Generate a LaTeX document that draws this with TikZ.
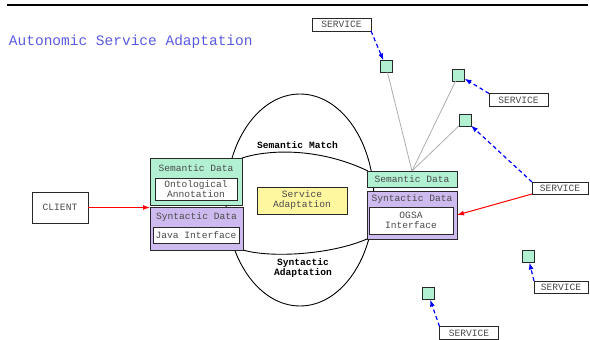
\documentclass[tikz,border=0pt]{standalone}
\usepackage{fontspec}
\newfontfamily\courfont{Liberation Mono}
\usetikzlibrary{positioning,arrows.meta}

\definecolor{semgreen}{RGB}{178,240,210}
\definecolor{synpurple}{RGB}{205,186,238}
\definecolor{adaptyellow}{RGB}{255,246,160}
\definecolor{titleblue}{RGB}{90,90,225}
\definecolor{boxline}{RGB}{40,40,40}
\definecolor{txtgray}{RGB}{75,75,75}

\tikzset{
  every node/.style={font=\courfont\fontsize{9.6}{10}\selectfont,inner sep=0pt,outer sep=0pt},
  box/.style={draw=boxline,line width=1pt,align=center,text=txtgray},
  semdata/.style={box,fill=semgreen},
  syndata/.style={box,fill=synpurple},
  iface/.style={box,fill=white},
  svcbox/.style={box,fill=white,minimum width=59pt,minimum height=13pt},
  sqnode/.style={box,fill=semgreen,minimum size=12pt},
  boldlbl/.style={font=\courfont\bfseries\fontsize{9.6}{10}\selectfont,align=center},
  hubline/.style={draw=black!32,line width=0.8pt},
  bluedash/.style={draw=blue,line width=1.2pt,dash pattern=on 4pt off 3pt,-{Latex[length=7pt,width=5pt]}},
  redarrow/.style={draw=red,line width=1pt,-{Latex[length=7pt,width=5pt]}}
}

\begin{document}
\begin{tikzpicture}[x=1pt,y=-1pt]
\useasboundingbox (0,0) rectangle (590,340);

\draw[line width=2pt] (7,5) -- (588,5);
\node[anchor=west,text=titleblue,font=\courfont\fontsize{14.5}{16}\selectfont] (title) at (9,42) {Autonomic Service Adaptation};

% ellipse and the two matching curves
\draw[line width=0.9pt] (300,200) ellipse [x radius=74,y radius=106];
\draw[line width=0.9pt] (242,158) .. controls (270,149) and (320,148) .. (368,171);
\draw[line width=0.9pt] (243,250) .. controls (270,258) and (330,255) .. (367,239);
\node[boldlbl] (match) at (297.5,145) {Semantic Match};
\node[boldlbl] (synadapt) at (303,268) {Syntactic\\Adaptation};

% client side
\node[semdata,minimum width=92pt,minimum height=47pt] (semL) at (196,181.5) {};
\node[iface,minimum width=82pt,minimum height=22pt] (ont) at (196,189) {Ontological\\Annotation};
\node[syndata,minimum width=93pt,minimum height=43pt] (synL) at (196.5,228.5) {};
\node[iface,minimum width=86pt,minimum height=16pt] (java) at (196,235) {Java Interface};
\node[text=txtgray] at ([yshift=-10pt]semL.north) {Semantic Data};
\node[text=txtgray] at ([yshift=-10.5pt]synL.north) {Syntactic Data};

\node[box,fill=white,minimum width=56pt,minimum height=31pt] (cli) at (60,207.5) {CLIENT};
\draw[redarrow] (cli) -- (cli -| synL.west);

\node[box,fill=adaptyellow,minimum width=90pt,minimum height=27pt] (adapt) at (302,200.5) {Service\\Adaptation};

% service side
\node[semdata,minimum width=90pt,minimum height=16pt] (semR) at (412,179) {Semantic Data};
\node[syndata,minimum width=90pt,minimum height=48pt] (synR) at (412,215) {};
\node[text=txtgray] at ([yshift=-8pt]synR.north) {Syntactic Data};
\node[iface,minimum width=84pt,minimum height=27pt] (ogsa) at (411,220.5) {OGSA\\Interface};

\node[sqnode] (sqA) at (386,66.5) {};
\node[sqnode] (sqB) at (458.5,75) {};
\node[sqnode] (sqC) at (465,120) {};
\node[sqnode] (sqD) at (528,256.5) {};
\node[sqnode] (sqE) at (428,293.5) {};

\foreach \s in {sqA,sqB,sqC}
  \draw[hubline] (\s) -- (semR.north);

\node[svcbox] (svcA) at (341.5,24.5) {SERVICE};
\node[svcbox] (svcB) at (518.5,100) {SERVICE};
\node[svcbox,minimum width=56pt,minimum height=12pt] (svcC) at (560,188) {SERVICE};
\node[svcbox,minimum width=54pt,minimum height=12pt] (svcD) at (561,287) {SERVICE};
\node[svcbox] (svcE) at (469,333) {SERVICE};

\draw[bluedash] (svcA.south east) -- (sqA);
\draw[bluedash] (svcB.north west) -- (sqB);
\draw[bluedash] (svcC.north west) -- (sqC);
\draw[bluedash] (svcD.north west) -- (sqD);
\draw[bluedash] (svcE.north west) -- (sqE);
\draw[redarrow] (svcC.south west) -- (synR.east);
\end{tikzpicture}
\end{document}
